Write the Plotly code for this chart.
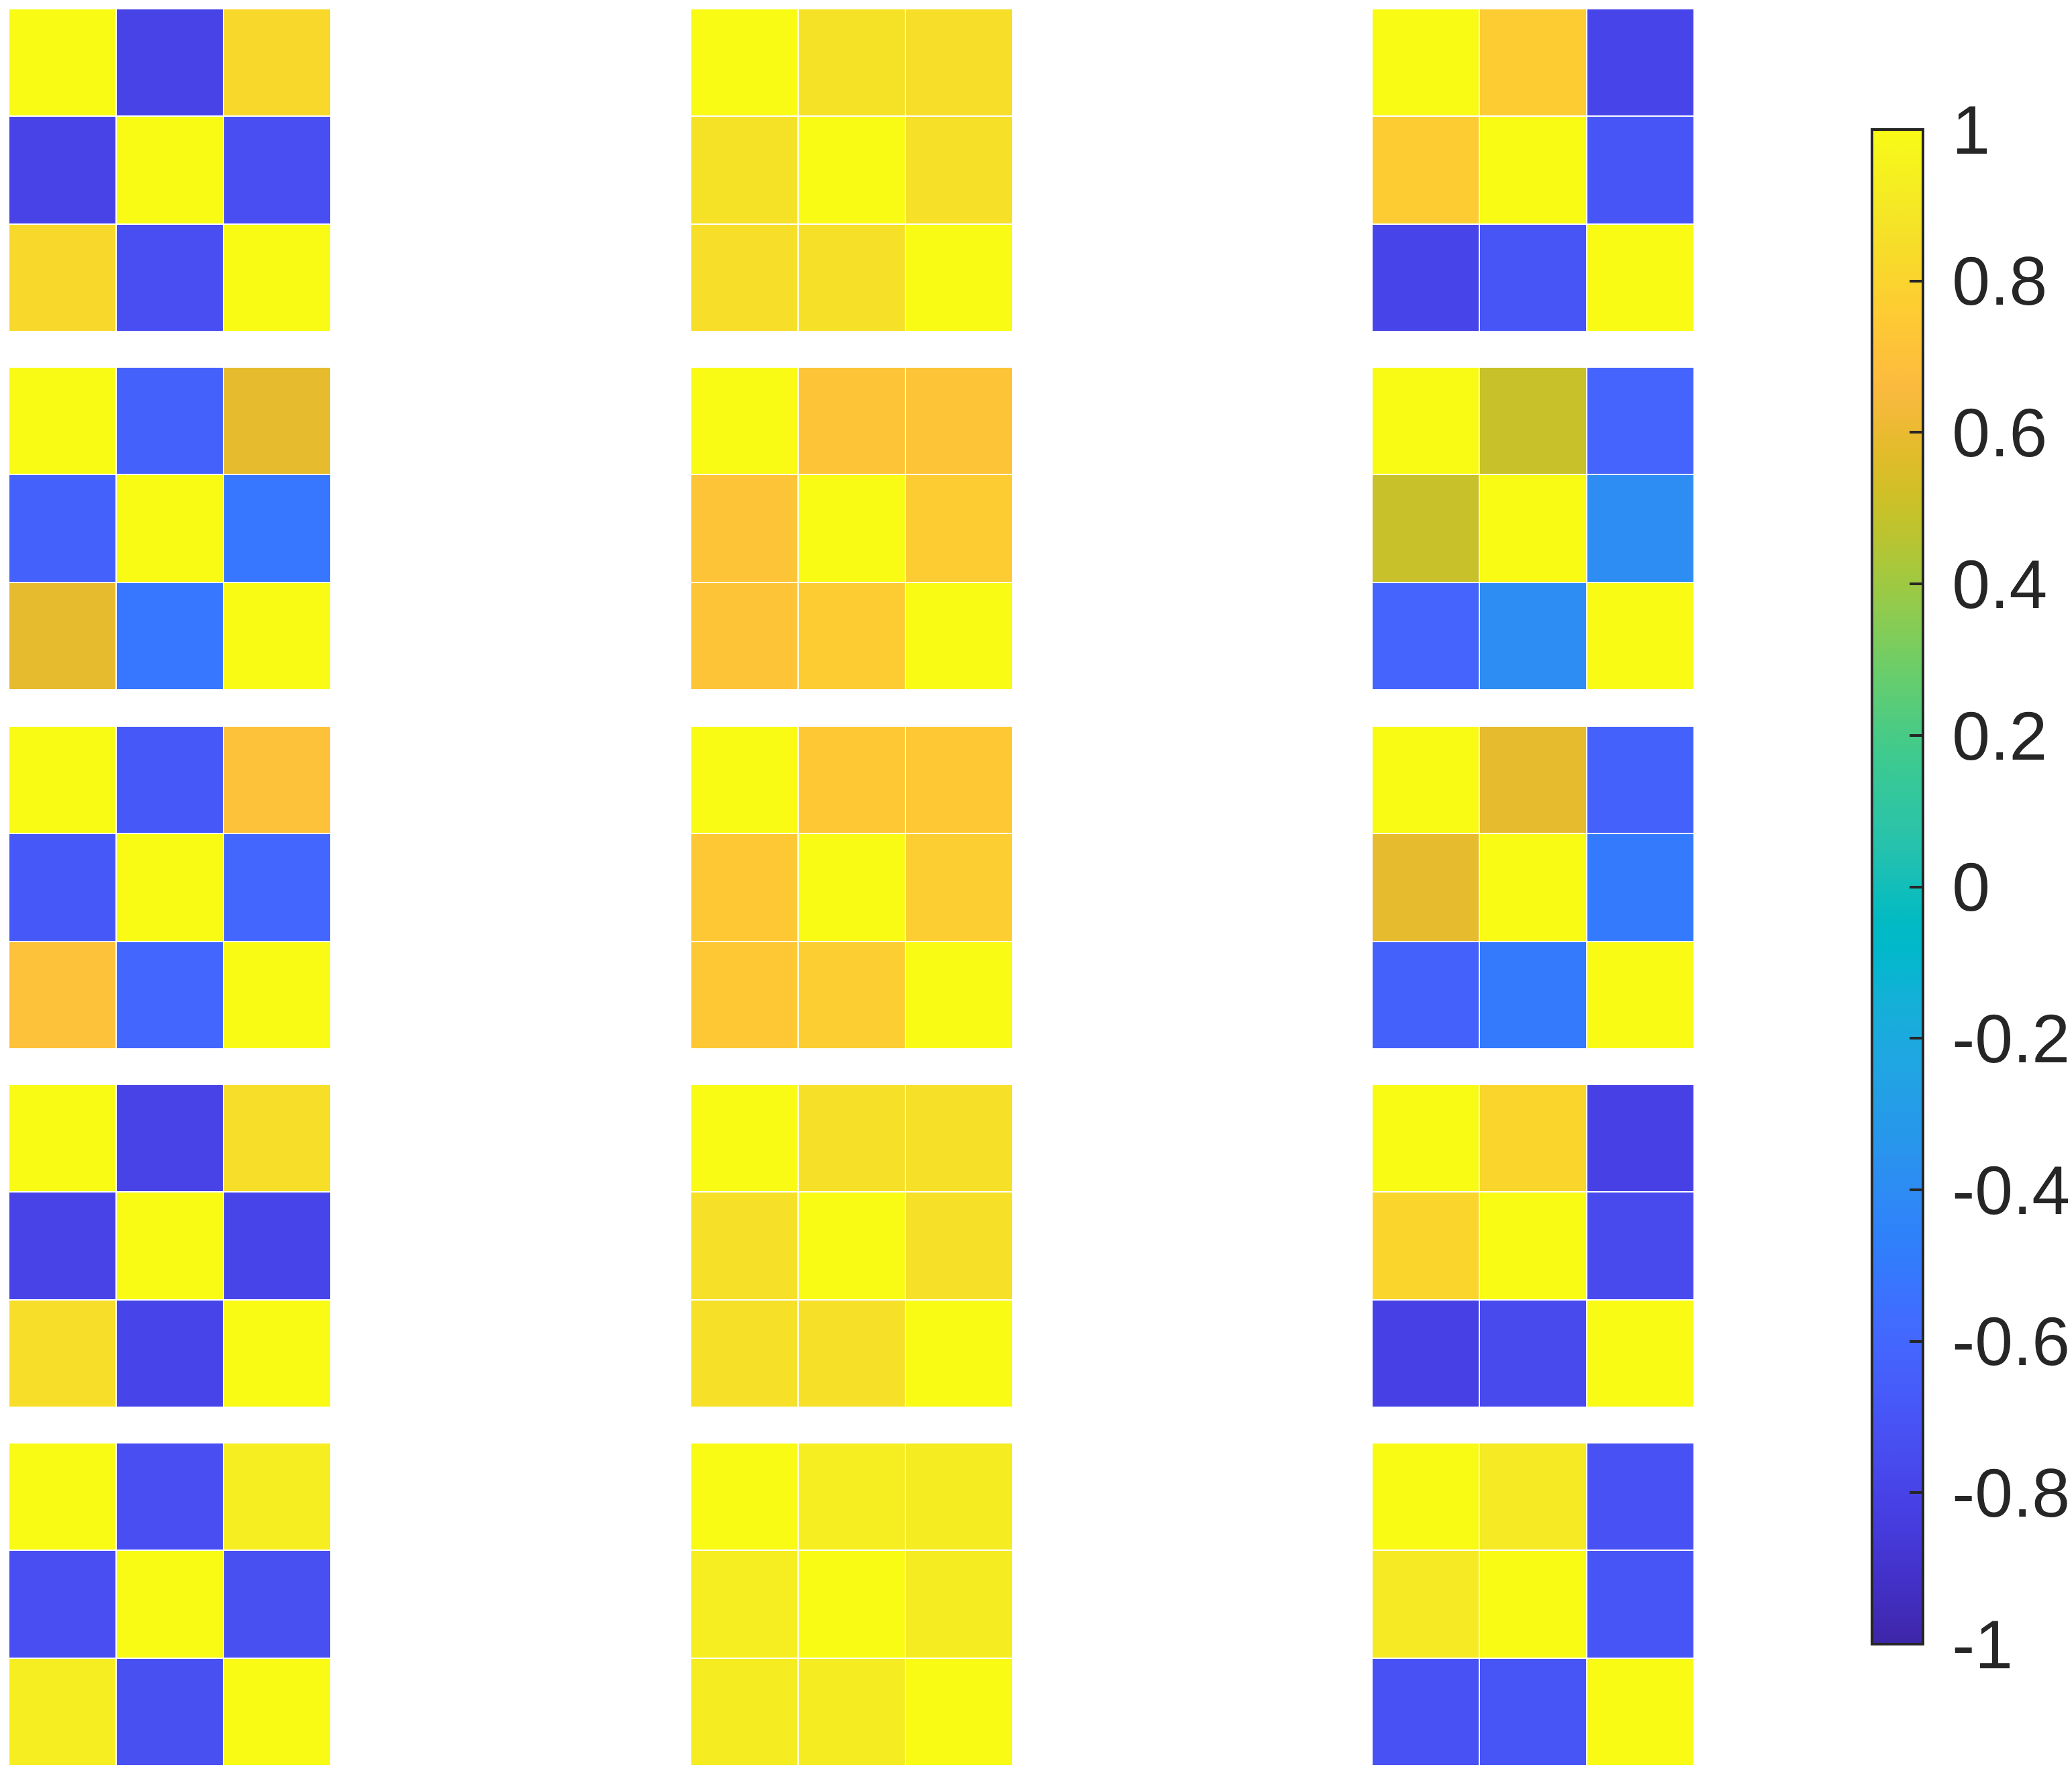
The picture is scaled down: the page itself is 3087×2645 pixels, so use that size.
import plotly.graph_objects as go

# ---------------- data ----------------
# off-diagonal correlations of each 3x3 matrix, grid rows (5) x grid columns (3)
pair_12 = [
    [-0.80, 0.87, 0.76],
    [-0.63, 0.72, 0.50],
    [-0.68, 0.74, 0.59],
    [-0.80, 0.86, 0.81],
    [-0.74, 0.93, 0.91],
]
pair_13 = [
    [0.82, 0.85, -0.79],
    [0.59, 0.72, -0.62],
    [0.70, 0.74, -0.63],
    [0.85, 0.86, -0.81],
    [0.93, 0.92, -0.72],
]
pair_23 = [
    [-0.74, 0.86, -0.70],
    [-0.52, 0.76, -0.39],
    [-0.60, 0.77, -0.50],
    [-0.79, 0.86, -0.76],
    [-0.73, 0.92, -0.70],
]
cbar_vals = [-1, -0.8, -0.6, -0.4, -0.2, 0, 0.2, 0.4, 0.6, 0.8, 1]
cbar_text = ["-1", "-0.8", "-0.6", "-0.4", "-0.2", "0", "0.2", "0.4", "0.6", "0.8", "1"]

parula = [
    [0.2422, 0.1504, 0.6603], [0.2504, 0.1650, 0.7076], [0.2578, 0.1818, 0.7511], [0.2647, 0.1978, 0.7952],
    [0.2706, 0.2147, 0.8364], [0.2751, 0.2342, 0.8710], [0.2783, 0.2559, 0.8991], [0.2803, 0.2782, 0.9221],
    [0.2813, 0.3006, 0.9414], [0.2810, 0.3228, 0.9579], [0.2795, 0.3447, 0.9717], [0.2760, 0.3667, 0.9829],
    [0.2699, 0.3892, 0.9906], [0.2602, 0.4123, 0.9952], [0.2440, 0.4358, 0.9988], [0.2206, 0.4603, 0.9973],
    [0.1963, 0.4847, 0.9892], [0.1834, 0.5074, 0.9798], [0.1786, 0.5289, 0.9682], [0.1764, 0.5499, 0.9520],
    [0.1687, 0.5703, 0.9359], [0.1540, 0.5902, 0.9218], [0.1460, 0.6091, 0.9079], [0.1380, 0.6276, 0.8973],
    [0.1248, 0.6459, 0.8883], [0.1113, 0.6635, 0.8763], [0.0952, 0.6798, 0.8598], [0.0689, 0.6948, 0.8394],
    [0.0297, 0.7082, 0.8163], [0.0036, 0.7203, 0.7917], [0.0067, 0.7312, 0.7660], [0.0433, 0.7411, 0.7394],
    [0.0964, 0.7500, 0.7120], [0.1408, 0.7584, 0.6842], [0.1717, 0.7670, 0.6554], [0.1938, 0.7758, 0.6251],
    [0.2161, 0.7843, 0.5923], [0.2470, 0.7918, 0.5567], [0.2906, 0.7973, 0.5188], [0.3406, 0.8008, 0.4789],
    [0.3909, 0.8029, 0.4354], [0.4456, 0.8024, 0.3909], [0.5044, 0.7993, 0.3480], [0.5616, 0.7942, 0.3045],
    [0.6174, 0.7876, 0.2612], [0.6720, 0.7793, 0.2227], [0.7242, 0.7698, 0.1910], [0.7738, 0.7598, 0.1646],
    [0.8203, 0.7498, 0.1535], [0.8634, 0.7406, 0.1596], [0.9035, 0.7330, 0.1774], [0.9393, 0.7288, 0.2100],
    [0.9728, 0.7298, 0.2394], [0.9956, 0.7434, 0.2371], [0.9970, 0.7659, 0.2199], [0.9952, 0.7893, 0.2028],
    [0.9892, 0.8136, 0.1885], [0.9786, 0.8386, 0.1766], [0.9676, 0.8639, 0.1643], [0.9610, 0.8890, 0.1537],
    [0.9597, 0.9135, 0.1423], [0.9628, 0.9373, 0.1265], [0.9691, 0.9606, 0.1064], [0.9769, 0.9839, 0.0805],
]
colorscale = [
    [i / (len(parula) - 1), "rgb(%d,%d,%d)" % tuple(round(c * 255) for c in rgb)]
    for i, rgb in enumerate(parula)
]

# ---------------- layout geometry (pixels) ----------------
W, H = 3087, 2645
col_left = [13, 1029, 2044]
cell_w = 480
row_top = [13, 547, 1082, 1616, 2150]
cell_h = 481

fig = go.Figure()
labels = [1, 2, 3]
k = 0
for r in range(5):
    for c in range(3):
        k += 1
        a, b, d = pair_12[r][c], pair_13[r][c], pair_23[r][c]
        z = [[1, a, b], [a, 1, d], [b, d, 1]]
        xa = "x" if k == 1 else "x%d" % k
        ya = "y" if k == 1 else "y%d" % k
        fig.add_trace(go.Heatmap(
            z=z, x=labels, y=labels, coloraxis="coloraxis",
            xgap=2, ygap=2, xaxis=xa, yaxis=ya, hoverinfo="z",
        ))
        x0 = col_left[c] / W
        x1 = (col_left[c] + cell_w) / W
        y1 = 1 - row_top[r] / H
        y0 = 1 - (row_top[r] + cell_h) / H
        xname = "xaxis" if k == 1 else "xaxis%d" % k
        yname = "yaxis" if k == 1 else "yaxis%d" % k
        fig.layout[xname] = dict(domain=[x0, x1], visible=False, anchor=ya,
                                 range=[0.5, 3.5], fixedrange=True)
        fig.layout[yname] = dict(domain=[y0, y1], visible=False, anchor=xa,
                                 range=[3.5, 0.5], fixedrange=True)

# thin-space prefix widens the gap between the bar and its labels
label_pad = "\u2009"
cb_top, cb_bottom, cb_left = 193, 2450, 2789
fig.update_layout(
    width=W, height=H,
    margin=dict(l=0, r=0, t=0, b=0, autoexpand=False),
    paper_bgcolor="white", plot_bgcolor="white",
    font=dict(family="Liberation Sans, Arial, Helvetica, sans-serif", color="#262626"),
    coloraxis=dict(
        colorscale=colorscale, cmin=-1, cmax=1,
        colorbar=dict(
            thicknessmode="pixels", thickness=76,
            lenmode="pixels", len=cb_bottom - cb_top,
            x=cb_left / W, xanchor="left",
            y=1 - cb_top / H, yanchor="top",
            xpad=0, ypad=0,
            outlinewidth=4, outlinecolor="#262626",
            ticks="inside", ticklen=22, tickwidth=4, tickcolor="#262626",
            tickvals=cbar_vals, ticktext=[label_pad + t for t in cbar_text],
            tickfont=dict(size=102, color="#262626",
                          family="Liberation Sans, Arial, Helvetica, sans-serif"),
        ),
    ),
)

fig.write_html(
    "out.html",
    config={"displayModeBar": False},
    post_script="document.body.style.margin='0';document.body.style.overflow='hidden';",
)
